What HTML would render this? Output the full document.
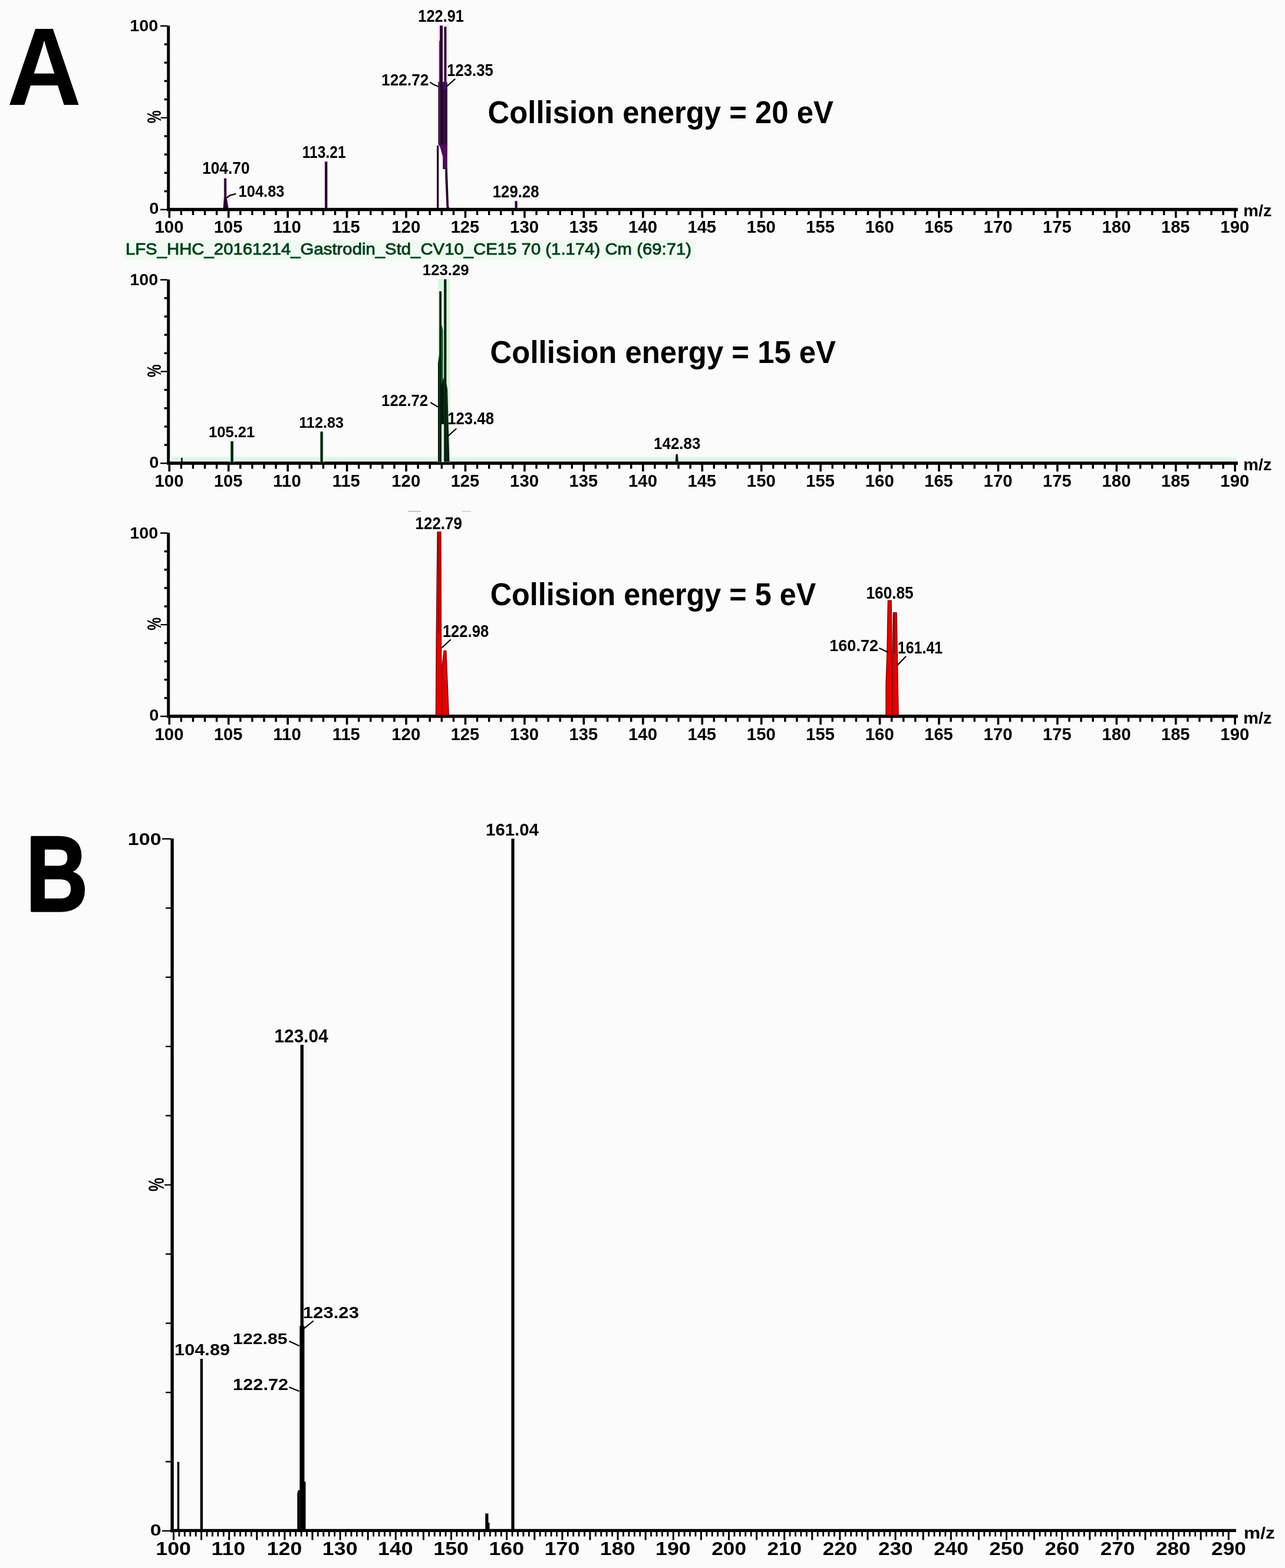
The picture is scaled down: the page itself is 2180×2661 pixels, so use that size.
<!DOCTYPE html>
<html><head><meta charset="utf-8"><title>Mass spectra</title>
<style>html,body{margin:0;padding:0;background:#fbfbfb;overflow:hidden;} svg{display:block;}</style>
</head><body>
<svg width="2180" height="2661" viewBox="0 0 2180 2661" font-family="&quot;Liberation Sans&quot;, Arial, sans-serif">
<rect x="0" y="0" width="2180" height="2661" fill="#fbfbfb"/>
<text transform="translate(11.74,177.5) scale(0.9370,1)" font-size="186.92" font-weight="bold" fill="#000">A</text>
<text transform="translate(43.83,1545.85) scale(0.8003,1)" font-size="182.56" font-weight="bold" fill="#000" stroke="#000" stroke-width="3.5" stroke-linejoin="round">B</text>
<rect x="283.2" y="43.5" width="5" height="314.2" fill="#000"/>
<rect x="283.2" y="352.8" width="1816.8" height="5.5" fill="#000"/>
<rect x="278.6" y="73.47" width="4.9" height="3.4" fill="#000"/>
<rect x="278.6" y="104.64" width="4.9" height="3.4" fill="#000"/>
<rect x="278.6" y="135.81" width="4.9" height="3.4" fill="#000"/>
<rect x="278.6" y="166.98" width="4.9" height="3.4" fill="#000"/>
<rect x="272.5" y="198.75" width="11" height="2.2" fill="#000"/>
<rect x="278.6" y="229.32" width="4.9" height="3.4" fill="#000"/>
<rect x="278.6" y="260.49" width="4.9" height="3.4" fill="#000"/>
<rect x="278.6" y="291.66" width="4.9" height="3.4" fill="#000"/>
<rect x="278.6" y="322.83" width="4.9" height="3.4" fill="#000"/>
<rect x="272" y="42.8" width="12" height="2.5" fill="#000"/>
<rect x="272" y="354.5" width="12" height="2.4" fill="#000"/>
<rect x="285.5" y="357.7" width="3.6" height="12" fill="#000"/>
<rect x="305.69" y="357.7" width="3.4" height="7.3" fill="#000"/>
<rect x="325.78" y="357.7" width="3.4" height="7.3" fill="#000"/>
<rect x="345.86" y="357.7" width="3.4" height="7.3" fill="#000"/>
<rect x="365.95" y="357.7" width="3.4" height="7.3" fill="#000"/>
<rect x="385.94" y="357.7" width="3.6" height="12" fill="#000"/>
<rect x="406.13" y="357.7" width="3.4" height="7.3" fill="#000"/>
<rect x="426.22" y="357.7" width="3.4" height="7.3" fill="#000"/>
<rect x="446.3" y="357.7" width="3.4" height="7.3" fill="#000"/>
<rect x="466.39" y="357.7" width="3.4" height="7.3" fill="#000"/>
<rect x="486.38" y="357.7" width="3.6" height="12" fill="#000"/>
<rect x="506.57" y="357.7" width="3.4" height="7.3" fill="#000"/>
<rect x="526.66" y="357.7" width="3.4" height="7.3" fill="#000"/>
<rect x="546.74" y="357.7" width="3.4" height="7.3" fill="#000"/>
<rect x="566.83" y="357.7" width="3.4" height="7.3" fill="#000"/>
<rect x="586.82" y="357.7" width="3.6" height="12" fill="#000"/>
<rect x="607.01" y="357.7" width="3.4" height="7.3" fill="#000"/>
<rect x="627.1" y="357.7" width="3.4" height="7.3" fill="#000"/>
<rect x="647.18" y="357.7" width="3.4" height="7.3" fill="#000"/>
<rect x="667.27" y="357.7" width="3.4" height="7.3" fill="#000"/>
<rect x="687.26" y="357.7" width="3.6" height="12" fill="#000"/>
<rect x="707.45" y="357.7" width="3.4" height="7.3" fill="#000"/>
<rect x="727.54" y="357.7" width="3.4" height="7.3" fill="#000"/>
<rect x="747.62" y="357.7" width="3.4" height="7.3" fill="#000"/>
<rect x="767.71" y="357.7" width="3.4" height="7.3" fill="#000"/>
<rect x="787.7" y="357.7" width="3.6" height="12" fill="#000"/>
<rect x="807.89" y="357.7" width="3.4" height="7.3" fill="#000"/>
<rect x="827.98" y="357.7" width="3.4" height="7.3" fill="#000"/>
<rect x="848.06" y="357.7" width="3.4" height="7.3" fill="#000"/>
<rect x="868.15" y="357.7" width="3.4" height="7.3" fill="#000"/>
<rect x="888.14" y="357.7" width="3.6" height="12" fill="#000"/>
<rect x="908.33" y="357.7" width="3.4" height="7.3" fill="#000"/>
<rect x="928.42" y="357.7" width="3.4" height="7.3" fill="#000"/>
<rect x="948.5" y="357.7" width="3.4" height="7.3" fill="#000"/>
<rect x="968.59" y="357.7" width="3.4" height="7.3" fill="#000"/>
<rect x="988.58" y="357.7" width="3.6" height="12" fill="#000"/>
<rect x="1008.77" y="357.7" width="3.4" height="7.3" fill="#000"/>
<rect x="1028.86" y="357.7" width="3.4" height="7.3" fill="#000"/>
<rect x="1048.94" y="357.7" width="3.4" height="7.3" fill="#000"/>
<rect x="1069.03" y="357.7" width="3.4" height="7.3" fill="#000"/>
<rect x="1089.02" y="357.7" width="3.6" height="12" fill="#000"/>
<rect x="1109.21" y="357.7" width="3.4" height="7.3" fill="#000"/>
<rect x="1129.3" y="357.7" width="3.4" height="7.3" fill="#000"/>
<rect x="1149.38" y="357.7" width="3.4" height="7.3" fill="#000"/>
<rect x="1169.47" y="357.7" width="3.4" height="7.3" fill="#000"/>
<rect x="1189.46" y="357.7" width="3.6" height="12" fill="#000"/>
<rect x="1209.65" y="357.7" width="3.4" height="7.3" fill="#000"/>
<rect x="1229.74" y="357.7" width="3.4" height="7.3" fill="#000"/>
<rect x="1249.82" y="357.7" width="3.4" height="7.3" fill="#000"/>
<rect x="1269.91" y="357.7" width="3.4" height="7.3" fill="#000"/>
<rect x="1289.9" y="357.7" width="3.6" height="12" fill="#000"/>
<rect x="1310.09" y="357.7" width="3.4" height="7.3" fill="#000"/>
<rect x="1330.18" y="357.7" width="3.4" height="7.3" fill="#000"/>
<rect x="1350.26" y="357.7" width="3.4" height="7.3" fill="#000"/>
<rect x="1370.35" y="357.7" width="3.4" height="7.3" fill="#000"/>
<rect x="1390.34" y="357.7" width="3.6" height="12" fill="#000"/>
<rect x="1410.53" y="357.7" width="3.4" height="7.3" fill="#000"/>
<rect x="1430.62" y="357.7" width="3.4" height="7.3" fill="#000"/>
<rect x="1450.7" y="357.7" width="3.4" height="7.3" fill="#000"/>
<rect x="1470.79" y="357.7" width="3.4" height="7.3" fill="#000"/>
<rect x="1490.78" y="357.7" width="3.6" height="12" fill="#000"/>
<rect x="1510.97" y="357.7" width="3.4" height="7.3" fill="#000"/>
<rect x="1531.06" y="357.7" width="3.4" height="7.3" fill="#000"/>
<rect x="1551.14" y="357.7" width="3.4" height="7.3" fill="#000"/>
<rect x="1571.23" y="357.7" width="3.4" height="7.3" fill="#000"/>
<rect x="1591.22" y="357.7" width="3.6" height="12" fill="#000"/>
<rect x="1611.41" y="357.7" width="3.4" height="7.3" fill="#000"/>
<rect x="1631.5" y="357.7" width="3.4" height="7.3" fill="#000"/>
<rect x="1651.58" y="357.7" width="3.4" height="7.3" fill="#000"/>
<rect x="1671.67" y="357.7" width="3.4" height="7.3" fill="#000"/>
<rect x="1691.66" y="357.7" width="3.6" height="12" fill="#000"/>
<rect x="1711.85" y="357.7" width="3.4" height="7.3" fill="#000"/>
<rect x="1731.94" y="357.7" width="3.4" height="7.3" fill="#000"/>
<rect x="1752.02" y="357.7" width="3.4" height="7.3" fill="#000"/>
<rect x="1772.11" y="357.7" width="3.4" height="7.3" fill="#000"/>
<rect x="1792.1" y="357.7" width="3.6" height="12" fill="#000"/>
<rect x="1812.29" y="357.7" width="3.4" height="7.3" fill="#000"/>
<rect x="1832.38" y="357.7" width="3.4" height="7.3" fill="#000"/>
<rect x="1852.46" y="357.7" width="3.4" height="7.3" fill="#000"/>
<rect x="1872.55" y="357.7" width="3.4" height="7.3" fill="#000"/>
<rect x="1892.54" y="357.7" width="3.6" height="12" fill="#000"/>
<rect x="1912.73" y="357.7" width="3.4" height="7.3" fill="#000"/>
<rect x="1932.82" y="357.7" width="3.4" height="7.3" fill="#000"/>
<rect x="1952.9" y="357.7" width="3.4" height="7.3" fill="#000"/>
<rect x="1972.99" y="357.7" width="3.4" height="7.3" fill="#000"/>
<rect x="1992.98" y="357.7" width="3.6" height="12" fill="#000"/>
<rect x="2013.17" y="357.7" width="3.4" height="7.3" fill="#000"/>
<rect x="2033.26" y="357.7" width="3.4" height="7.3" fill="#000"/>
<rect x="2053.34" y="357.7" width="3.4" height="7.3" fill="#000"/>
<rect x="2073.43" y="357.7" width="3.4" height="7.3" fill="#000"/>
<rect x="2093.42" y="357.7" width="3.6" height="12" fill="#000"/>
<text transform="translate(262.45,395.3) scale(1.0265,1)" font-size="28.64" font-weight="bold" fill="#000">100</text>
<text transform="translate(362.9,395.3) scale(1.0180,1)" font-size="28.64" font-weight="bold" fill="#000">105</text>
<text transform="translate(463.33,395.3) scale(1.0265,1)" font-size="28.64" font-weight="bold" fill="#000">110</text>
<text transform="translate(563.78,395.3) scale(1.0030,1)" font-size="29.07" font-weight="bold" fill="#000">115</text>
<text transform="translate(664.21,395.3) scale(1.0265,1)" font-size="28.64" font-weight="bold" fill="#000">120</text>
<text transform="translate(764.66,395.3) scale(1.0180,1)" font-size="28.64" font-weight="bold" fill="#000">125</text>
<text transform="translate(865.09,395.3) scale(1.0265,1)" font-size="28.64" font-weight="bold" fill="#000">130</text>
<text transform="translate(965.54,395.3) scale(1.0180,1)" font-size="28.64" font-weight="bold" fill="#000">135</text>
<text transform="translate(1065.97,395.3) scale(1.0265,1)" font-size="28.64" font-weight="bold" fill="#000">140</text>
<text transform="translate(1166.42,395.3) scale(1.0030,1)" font-size="29.07" font-weight="bold" fill="#000">145</text>
<text transform="translate(1266.85,395.3) scale(1.0265,1)" font-size="28.64" font-weight="bold" fill="#000">150</text>
<text transform="translate(1367.3,395.3) scale(1.0030,1)" font-size="29.07" font-weight="bold" fill="#000">155</text>
<text transform="translate(1467.73,395.3) scale(1.0265,1)" font-size="28.64" font-weight="bold" fill="#000">160</text>
<text transform="translate(1568.18,395.3) scale(1.0180,1)" font-size="28.64" font-weight="bold" fill="#000">165</text>
<text transform="translate(1668.61,395.3) scale(1.0265,1)" font-size="28.64" font-weight="bold" fill="#000">170</text>
<text transform="translate(1769.06,395.3) scale(1.0030,1)" font-size="29.07" font-weight="bold" fill="#000">175</text>
<text transform="translate(1869.49,395.3) scale(1.0265,1)" font-size="28.64" font-weight="bold" fill="#000">180</text>
<text transform="translate(1969.94,395.3) scale(1.0180,1)" font-size="28.64" font-weight="bold" fill="#000">185</text>
<text transform="translate(2070.37,395.3) scale(1.0265,1)" font-size="28.64" font-weight="bold" fill="#000">190</text>
<text transform="translate(220.19,53.4) scale(1.0461,1)" font-size="27.50" font-weight="bold" fill="#000">100</text>
<text transform="translate(253.14,362.8) scale(1.0412,1)" font-size="28.07" font-weight="bold" fill="#000">0</text>
<text transform="translate(272.94,209.37) rotate(-90) scale(0.7493,1)" font-size="32.97" font-weight="bold" fill="#000">%</text>
<text transform="translate(2109.19,367.3) scale(1.0488,1)" font-size="27.60" font-weight="bold" fill="#000">m/z</text>
<rect x="283.2" y="474.3" width="5" height="313.9" fill="#000"/>
<rect x="283.2" y="783.3" width="1816.8" height="5.5" fill="#000"/>
<rect x="278.6" y="504.24" width="4.9" height="3.4" fill="#000"/>
<rect x="278.6" y="535.38" width="4.9" height="3.4" fill="#000"/>
<rect x="278.6" y="566.52" width="4.9" height="3.4" fill="#000"/>
<rect x="278.6" y="597.66" width="4.9" height="3.4" fill="#000"/>
<rect x="272.5" y="629.4" width="11" height="2.2" fill="#000"/>
<rect x="278.6" y="659.94" width="4.9" height="3.4" fill="#000"/>
<rect x="278.6" y="691.08" width="4.9" height="3.4" fill="#000"/>
<rect x="278.6" y="722.22" width="4.9" height="3.4" fill="#000"/>
<rect x="278.6" y="753.36" width="4.9" height="3.4" fill="#000"/>
<rect x="272" y="473.6" width="12" height="2.5" fill="#000"/>
<rect x="272" y="785" width="12" height="2.4" fill="#000"/>
<rect x="285.5" y="788.2" width="3.6" height="12" fill="#000"/>
<rect x="305.69" y="788.2" width="3.4" height="7.3" fill="#000"/>
<rect x="325.78" y="788.2" width="3.4" height="7.3" fill="#000"/>
<rect x="345.86" y="788.2" width="3.4" height="7.3" fill="#000"/>
<rect x="365.95" y="788.2" width="3.4" height="7.3" fill="#000"/>
<rect x="385.94" y="788.2" width="3.6" height="12" fill="#000"/>
<rect x="406.13" y="788.2" width="3.4" height="7.3" fill="#000"/>
<rect x="426.22" y="788.2" width="3.4" height="7.3" fill="#000"/>
<rect x="446.3" y="788.2" width="3.4" height="7.3" fill="#000"/>
<rect x="466.39" y="788.2" width="3.4" height="7.3" fill="#000"/>
<rect x="486.38" y="788.2" width="3.6" height="12" fill="#000"/>
<rect x="506.57" y="788.2" width="3.4" height="7.3" fill="#000"/>
<rect x="526.66" y="788.2" width="3.4" height="7.3" fill="#000"/>
<rect x="546.74" y="788.2" width="3.4" height="7.3" fill="#000"/>
<rect x="566.83" y="788.2" width="3.4" height="7.3" fill="#000"/>
<rect x="586.82" y="788.2" width="3.6" height="12" fill="#000"/>
<rect x="607.01" y="788.2" width="3.4" height="7.3" fill="#000"/>
<rect x="627.1" y="788.2" width="3.4" height="7.3" fill="#000"/>
<rect x="647.18" y="788.2" width="3.4" height="7.3" fill="#000"/>
<rect x="667.27" y="788.2" width="3.4" height="7.3" fill="#000"/>
<rect x="687.26" y="788.2" width="3.6" height="12" fill="#000"/>
<rect x="707.45" y="788.2" width="3.4" height="7.3" fill="#000"/>
<rect x="727.54" y="788.2" width="3.4" height="7.3" fill="#000"/>
<rect x="747.62" y="788.2" width="3.4" height="7.3" fill="#000"/>
<rect x="767.71" y="788.2" width="3.4" height="7.3" fill="#000"/>
<rect x="787.7" y="788.2" width="3.6" height="12" fill="#000"/>
<rect x="807.89" y="788.2" width="3.4" height="7.3" fill="#000"/>
<rect x="827.98" y="788.2" width="3.4" height="7.3" fill="#000"/>
<rect x="848.06" y="788.2" width="3.4" height="7.3" fill="#000"/>
<rect x="868.15" y="788.2" width="3.4" height="7.3" fill="#000"/>
<rect x="888.14" y="788.2" width="3.6" height="12" fill="#000"/>
<rect x="908.33" y="788.2" width="3.4" height="7.3" fill="#000"/>
<rect x="928.42" y="788.2" width="3.4" height="7.3" fill="#000"/>
<rect x="948.5" y="788.2" width="3.4" height="7.3" fill="#000"/>
<rect x="968.59" y="788.2" width="3.4" height="7.3" fill="#000"/>
<rect x="988.58" y="788.2" width="3.6" height="12" fill="#000"/>
<rect x="1008.77" y="788.2" width="3.4" height="7.3" fill="#000"/>
<rect x="1028.86" y="788.2" width="3.4" height="7.3" fill="#000"/>
<rect x="1048.94" y="788.2" width="3.4" height="7.3" fill="#000"/>
<rect x="1069.03" y="788.2" width="3.4" height="7.3" fill="#000"/>
<rect x="1089.02" y="788.2" width="3.6" height="12" fill="#000"/>
<rect x="1109.21" y="788.2" width="3.4" height="7.3" fill="#000"/>
<rect x="1129.3" y="788.2" width="3.4" height="7.3" fill="#000"/>
<rect x="1149.38" y="788.2" width="3.4" height="7.3" fill="#000"/>
<rect x="1169.47" y="788.2" width="3.4" height="7.3" fill="#000"/>
<rect x="1189.46" y="788.2" width="3.6" height="12" fill="#000"/>
<rect x="1209.65" y="788.2" width="3.4" height="7.3" fill="#000"/>
<rect x="1229.74" y="788.2" width="3.4" height="7.3" fill="#000"/>
<rect x="1249.82" y="788.2" width="3.4" height="7.3" fill="#000"/>
<rect x="1269.91" y="788.2" width="3.4" height="7.3" fill="#000"/>
<rect x="1289.9" y="788.2" width="3.6" height="12" fill="#000"/>
<rect x="1310.09" y="788.2" width="3.4" height="7.3" fill="#000"/>
<rect x="1330.18" y="788.2" width="3.4" height="7.3" fill="#000"/>
<rect x="1350.26" y="788.2" width="3.4" height="7.3" fill="#000"/>
<rect x="1370.35" y="788.2" width="3.4" height="7.3" fill="#000"/>
<rect x="1390.34" y="788.2" width="3.6" height="12" fill="#000"/>
<rect x="1410.53" y="788.2" width="3.4" height="7.3" fill="#000"/>
<rect x="1430.62" y="788.2" width="3.4" height="7.3" fill="#000"/>
<rect x="1450.7" y="788.2" width="3.4" height="7.3" fill="#000"/>
<rect x="1470.79" y="788.2" width="3.4" height="7.3" fill="#000"/>
<rect x="1490.78" y="788.2" width="3.6" height="12" fill="#000"/>
<rect x="1510.97" y="788.2" width="3.4" height="7.3" fill="#000"/>
<rect x="1531.06" y="788.2" width="3.4" height="7.3" fill="#000"/>
<rect x="1551.14" y="788.2" width="3.4" height="7.3" fill="#000"/>
<rect x="1571.23" y="788.2" width="3.4" height="7.3" fill="#000"/>
<rect x="1591.22" y="788.2" width="3.6" height="12" fill="#000"/>
<rect x="1611.41" y="788.2" width="3.4" height="7.3" fill="#000"/>
<rect x="1631.5" y="788.2" width="3.4" height="7.3" fill="#000"/>
<rect x="1651.58" y="788.2" width="3.4" height="7.3" fill="#000"/>
<rect x="1671.67" y="788.2" width="3.4" height="7.3" fill="#000"/>
<rect x="1691.66" y="788.2" width="3.6" height="12" fill="#000"/>
<rect x="1711.85" y="788.2" width="3.4" height="7.3" fill="#000"/>
<rect x="1731.94" y="788.2" width="3.4" height="7.3" fill="#000"/>
<rect x="1752.02" y="788.2" width="3.4" height="7.3" fill="#000"/>
<rect x="1772.11" y="788.2" width="3.4" height="7.3" fill="#000"/>
<rect x="1792.1" y="788.2" width="3.6" height="12" fill="#000"/>
<rect x="1812.29" y="788.2" width="3.4" height="7.3" fill="#000"/>
<rect x="1832.38" y="788.2" width="3.4" height="7.3" fill="#000"/>
<rect x="1852.46" y="788.2" width="3.4" height="7.3" fill="#000"/>
<rect x="1872.55" y="788.2" width="3.4" height="7.3" fill="#000"/>
<rect x="1892.54" y="788.2" width="3.6" height="12" fill="#000"/>
<rect x="1912.73" y="788.2" width="3.4" height="7.3" fill="#000"/>
<rect x="1932.82" y="788.2" width="3.4" height="7.3" fill="#000"/>
<rect x="1952.9" y="788.2" width="3.4" height="7.3" fill="#000"/>
<rect x="1972.99" y="788.2" width="3.4" height="7.3" fill="#000"/>
<rect x="1992.98" y="788.2" width="3.6" height="12" fill="#000"/>
<rect x="2013.17" y="788.2" width="3.4" height="7.3" fill="#000"/>
<rect x="2033.26" y="788.2" width="3.4" height="7.3" fill="#000"/>
<rect x="2053.34" y="788.2" width="3.4" height="7.3" fill="#000"/>
<rect x="2073.43" y="788.2" width="3.4" height="7.3" fill="#000"/>
<rect x="2093.42" y="788.2" width="3.6" height="12" fill="#000"/>
<text transform="translate(262.45,826.3) scale(1.0265,1)" font-size="28.64" font-weight="bold" fill="#000">100</text>
<text transform="translate(362.9,826.3) scale(1.0180,1)" font-size="28.64" font-weight="bold" fill="#000">105</text>
<text transform="translate(463.33,826.3) scale(1.0265,1)" font-size="28.64" font-weight="bold" fill="#000">110</text>
<text transform="translate(563.78,826.3) scale(1.0030,1)" font-size="29.07" font-weight="bold" fill="#000">115</text>
<text transform="translate(664.21,826.3) scale(1.0265,1)" font-size="28.64" font-weight="bold" fill="#000">120</text>
<text transform="translate(764.66,826.3) scale(1.0180,1)" font-size="28.64" font-weight="bold" fill="#000">125</text>
<text transform="translate(865.09,826.3) scale(1.0265,1)" font-size="28.64" font-weight="bold" fill="#000">130</text>
<text transform="translate(965.54,826.3) scale(1.0180,1)" font-size="28.64" font-weight="bold" fill="#000">135</text>
<text transform="translate(1065.97,826.3) scale(1.0265,1)" font-size="28.64" font-weight="bold" fill="#000">140</text>
<text transform="translate(1166.42,826.3) scale(1.0030,1)" font-size="29.07" font-weight="bold" fill="#000">145</text>
<text transform="translate(1266.85,826.3) scale(1.0265,1)" font-size="28.64" font-weight="bold" fill="#000">150</text>
<text transform="translate(1367.3,826.3) scale(1.0030,1)" font-size="29.07" font-weight="bold" fill="#000">155</text>
<text transform="translate(1467.73,826.3) scale(1.0265,1)" font-size="28.64" font-weight="bold" fill="#000">160</text>
<text transform="translate(1568.18,826.3) scale(1.0180,1)" font-size="28.64" font-weight="bold" fill="#000">165</text>
<text transform="translate(1668.61,826.3) scale(1.0265,1)" font-size="28.64" font-weight="bold" fill="#000">170</text>
<text transform="translate(1769.06,826.3) scale(1.0030,1)" font-size="29.07" font-weight="bold" fill="#000">175</text>
<text transform="translate(1869.49,826.3) scale(1.0265,1)" font-size="28.64" font-weight="bold" fill="#000">180</text>
<text transform="translate(1969.94,826.3) scale(1.0180,1)" font-size="28.64" font-weight="bold" fill="#000">185</text>
<text transform="translate(2070.37,826.3) scale(1.0265,1)" font-size="28.64" font-weight="bold" fill="#000">190</text>
<text transform="translate(220.19,484.4) scale(1.0461,1)" font-size="27.50" font-weight="bold" fill="#000">100</text>
<text transform="translate(253.14,793.8) scale(1.0412,1)" font-size="28.07" font-weight="bold" fill="#000">0</text>
<text transform="translate(272.94,640.37) rotate(-90) scale(0.7493,1)" font-size="32.97" font-weight="bold" fill="#000">%</text>
<text transform="translate(2109.19,798.3) scale(1.0488,1)" font-size="27.60" font-weight="bold" fill="#000">m/z</text>
<rect x="283.2" y="904.1" width="5" height="313.6" fill="#000"/>
<rect x="283.2" y="1212.8" width="1816.8" height="5.5" fill="#000"/>
<rect x="278.6" y="934.01" width="4.9" height="3.4" fill="#000"/>
<rect x="278.6" y="965.12" width="4.9" height="3.4" fill="#000"/>
<rect x="278.6" y="996.23" width="4.9" height="3.4" fill="#000"/>
<rect x="278.6" y="1027.34" width="4.9" height="3.4" fill="#000"/>
<rect x="272.5" y="1059.05" width="11" height="2.2" fill="#000"/>
<rect x="278.6" y="1089.56" width="4.9" height="3.4" fill="#000"/>
<rect x="278.6" y="1120.67" width="4.9" height="3.4" fill="#000"/>
<rect x="278.6" y="1151.78" width="4.9" height="3.4" fill="#000"/>
<rect x="278.6" y="1182.89" width="4.9" height="3.4" fill="#000"/>
<rect x="272" y="903.4" width="12" height="2.5" fill="#000"/>
<rect x="272" y="1214.5" width="12" height="2.4" fill="#000"/>
<rect x="285.5" y="1217.7" width="3.6" height="12" fill="#000"/>
<rect x="305.69" y="1217.7" width="3.4" height="7.3" fill="#000"/>
<rect x="325.78" y="1217.7" width="3.4" height="7.3" fill="#000"/>
<rect x="345.86" y="1217.7" width="3.4" height="7.3" fill="#000"/>
<rect x="365.95" y="1217.7" width="3.4" height="7.3" fill="#000"/>
<rect x="385.94" y="1217.7" width="3.6" height="12" fill="#000"/>
<rect x="406.13" y="1217.7" width="3.4" height="7.3" fill="#000"/>
<rect x="426.22" y="1217.7" width="3.4" height="7.3" fill="#000"/>
<rect x="446.3" y="1217.7" width="3.4" height="7.3" fill="#000"/>
<rect x="466.39" y="1217.7" width="3.4" height="7.3" fill="#000"/>
<rect x="486.38" y="1217.7" width="3.6" height="12" fill="#000"/>
<rect x="506.57" y="1217.7" width="3.4" height="7.3" fill="#000"/>
<rect x="526.66" y="1217.7" width="3.4" height="7.3" fill="#000"/>
<rect x="546.74" y="1217.7" width="3.4" height="7.3" fill="#000"/>
<rect x="566.83" y="1217.7" width="3.4" height="7.3" fill="#000"/>
<rect x="586.82" y="1217.7" width="3.6" height="12" fill="#000"/>
<rect x="607.01" y="1217.7" width="3.4" height="7.3" fill="#000"/>
<rect x="627.1" y="1217.7" width="3.4" height="7.3" fill="#000"/>
<rect x="647.18" y="1217.7" width="3.4" height="7.3" fill="#000"/>
<rect x="667.27" y="1217.7" width="3.4" height="7.3" fill="#000"/>
<rect x="687.26" y="1217.7" width="3.6" height="12" fill="#000"/>
<rect x="707.45" y="1217.7" width="3.4" height="7.3" fill="#000"/>
<rect x="727.54" y="1217.7" width="3.4" height="7.3" fill="#000"/>
<rect x="747.62" y="1217.7" width="3.4" height="7.3" fill="#000"/>
<rect x="767.71" y="1217.7" width="3.4" height="7.3" fill="#000"/>
<rect x="787.7" y="1217.7" width="3.6" height="12" fill="#000"/>
<rect x="807.89" y="1217.7" width="3.4" height="7.3" fill="#000"/>
<rect x="827.98" y="1217.7" width="3.4" height="7.3" fill="#000"/>
<rect x="848.06" y="1217.7" width="3.4" height="7.3" fill="#000"/>
<rect x="868.15" y="1217.7" width="3.4" height="7.3" fill="#000"/>
<rect x="888.14" y="1217.7" width="3.6" height="12" fill="#000"/>
<rect x="908.33" y="1217.7" width="3.4" height="7.3" fill="#000"/>
<rect x="928.42" y="1217.7" width="3.4" height="7.3" fill="#000"/>
<rect x="948.5" y="1217.7" width="3.4" height="7.3" fill="#000"/>
<rect x="968.59" y="1217.7" width="3.4" height="7.3" fill="#000"/>
<rect x="988.58" y="1217.7" width="3.6" height="12" fill="#000"/>
<rect x="1008.77" y="1217.7" width="3.4" height="7.3" fill="#000"/>
<rect x="1028.86" y="1217.7" width="3.4" height="7.3" fill="#000"/>
<rect x="1048.94" y="1217.7" width="3.4" height="7.3" fill="#000"/>
<rect x="1069.03" y="1217.7" width="3.4" height="7.3" fill="#000"/>
<rect x="1089.02" y="1217.7" width="3.6" height="12" fill="#000"/>
<rect x="1109.21" y="1217.7" width="3.4" height="7.3" fill="#000"/>
<rect x="1129.3" y="1217.7" width="3.4" height="7.3" fill="#000"/>
<rect x="1149.38" y="1217.7" width="3.4" height="7.3" fill="#000"/>
<rect x="1169.47" y="1217.7" width="3.4" height="7.3" fill="#000"/>
<rect x="1189.46" y="1217.7" width="3.6" height="12" fill="#000"/>
<rect x="1209.65" y="1217.7" width="3.4" height="7.3" fill="#000"/>
<rect x="1229.74" y="1217.7" width="3.4" height="7.3" fill="#000"/>
<rect x="1249.82" y="1217.7" width="3.4" height="7.3" fill="#000"/>
<rect x="1269.91" y="1217.7" width="3.4" height="7.3" fill="#000"/>
<rect x="1289.9" y="1217.7" width="3.6" height="12" fill="#000"/>
<rect x="1310.09" y="1217.7" width="3.4" height="7.3" fill="#000"/>
<rect x="1330.18" y="1217.7" width="3.4" height="7.3" fill="#000"/>
<rect x="1350.26" y="1217.7" width="3.4" height="7.3" fill="#000"/>
<rect x="1370.35" y="1217.7" width="3.4" height="7.3" fill="#000"/>
<rect x="1390.34" y="1217.7" width="3.6" height="12" fill="#000"/>
<rect x="1410.53" y="1217.7" width="3.4" height="7.3" fill="#000"/>
<rect x="1430.62" y="1217.7" width="3.4" height="7.3" fill="#000"/>
<rect x="1450.7" y="1217.7" width="3.4" height="7.3" fill="#000"/>
<rect x="1470.79" y="1217.7" width="3.4" height="7.3" fill="#000"/>
<rect x="1490.78" y="1217.7" width="3.6" height="12" fill="#000"/>
<rect x="1510.97" y="1217.7" width="3.4" height="7.3" fill="#000"/>
<rect x="1531.06" y="1217.7" width="3.4" height="7.3" fill="#000"/>
<rect x="1551.14" y="1217.7" width="3.4" height="7.3" fill="#000"/>
<rect x="1571.23" y="1217.7" width="3.4" height="7.3" fill="#000"/>
<rect x="1591.22" y="1217.7" width="3.6" height="12" fill="#000"/>
<rect x="1611.41" y="1217.7" width="3.4" height="7.3" fill="#000"/>
<rect x="1631.5" y="1217.7" width="3.4" height="7.3" fill="#000"/>
<rect x="1651.58" y="1217.7" width="3.4" height="7.3" fill="#000"/>
<rect x="1671.67" y="1217.7" width="3.4" height="7.3" fill="#000"/>
<rect x="1691.66" y="1217.7" width="3.6" height="12" fill="#000"/>
<rect x="1711.85" y="1217.7" width="3.4" height="7.3" fill="#000"/>
<rect x="1731.94" y="1217.7" width="3.4" height="7.3" fill="#000"/>
<rect x="1752.02" y="1217.7" width="3.4" height="7.3" fill="#000"/>
<rect x="1772.11" y="1217.7" width="3.4" height="7.3" fill="#000"/>
<rect x="1792.1" y="1217.7" width="3.6" height="12" fill="#000"/>
<rect x="1812.29" y="1217.7" width="3.4" height="7.3" fill="#000"/>
<rect x="1832.38" y="1217.7" width="3.4" height="7.3" fill="#000"/>
<rect x="1852.46" y="1217.7" width="3.4" height="7.3" fill="#000"/>
<rect x="1872.55" y="1217.7" width="3.4" height="7.3" fill="#000"/>
<rect x="1892.54" y="1217.7" width="3.6" height="12" fill="#000"/>
<rect x="1912.73" y="1217.7" width="3.4" height="7.3" fill="#000"/>
<rect x="1932.82" y="1217.7" width="3.4" height="7.3" fill="#000"/>
<rect x="1952.9" y="1217.7" width="3.4" height="7.3" fill="#000"/>
<rect x="1972.99" y="1217.7" width="3.4" height="7.3" fill="#000"/>
<rect x="1992.98" y="1217.7" width="3.6" height="12" fill="#000"/>
<rect x="2013.17" y="1217.7" width="3.4" height="7.3" fill="#000"/>
<rect x="2033.26" y="1217.7" width="3.4" height="7.3" fill="#000"/>
<rect x="2053.34" y="1217.7" width="3.4" height="7.3" fill="#000"/>
<rect x="2073.43" y="1217.7" width="3.4" height="7.3" fill="#000"/>
<rect x="2093.42" y="1217.7" width="3.6" height="12" fill="#000"/>
<text transform="translate(262.45,1255.8) scale(1.0265,1)" font-size="28.64" font-weight="bold" fill="#000">100</text>
<text transform="translate(362.9,1255.8) scale(1.0180,1)" font-size="28.64" font-weight="bold" fill="#000">105</text>
<text transform="translate(463.33,1255.8) scale(1.0265,1)" font-size="28.64" font-weight="bold" fill="#000">110</text>
<text transform="translate(563.78,1255.8) scale(1.0030,1)" font-size="29.07" font-weight="bold" fill="#000">115</text>
<text transform="translate(664.21,1255.8) scale(1.0265,1)" font-size="28.64" font-weight="bold" fill="#000">120</text>
<text transform="translate(764.66,1255.8) scale(1.0180,1)" font-size="28.64" font-weight="bold" fill="#000">125</text>
<text transform="translate(865.09,1255.8) scale(1.0265,1)" font-size="28.64" font-weight="bold" fill="#000">130</text>
<text transform="translate(965.54,1255.8) scale(1.0180,1)" font-size="28.64" font-weight="bold" fill="#000">135</text>
<text transform="translate(1065.97,1255.8) scale(1.0265,1)" font-size="28.64" font-weight="bold" fill="#000">140</text>
<text transform="translate(1166.42,1255.8) scale(1.0030,1)" font-size="29.07" font-weight="bold" fill="#000">145</text>
<text transform="translate(1266.85,1255.8) scale(1.0265,1)" font-size="28.64" font-weight="bold" fill="#000">150</text>
<text transform="translate(1367.3,1255.8) scale(1.0030,1)" font-size="29.07" font-weight="bold" fill="#000">155</text>
<text transform="translate(1467.73,1255.8) scale(1.0265,1)" font-size="28.64" font-weight="bold" fill="#000">160</text>
<text transform="translate(1568.18,1255.8) scale(1.0180,1)" font-size="28.64" font-weight="bold" fill="#000">165</text>
<text transform="translate(1668.61,1255.8) scale(1.0265,1)" font-size="28.64" font-weight="bold" fill="#000">170</text>
<text transform="translate(1769.06,1255.8) scale(1.0030,1)" font-size="29.07" font-weight="bold" fill="#000">175</text>
<text transform="translate(1869.49,1255.8) scale(1.0265,1)" font-size="28.64" font-weight="bold" fill="#000">180</text>
<text transform="translate(1969.94,1255.8) scale(1.0180,1)" font-size="28.64" font-weight="bold" fill="#000">185</text>
<text transform="translate(2070.37,1255.8) scale(1.0265,1)" font-size="28.64" font-weight="bold" fill="#000">190</text>
<text transform="translate(220.19,913.9) scale(1.0461,1)" font-size="27.50" font-weight="bold" fill="#000">100</text>
<text transform="translate(253.14,1223.3) scale(1.0412,1)" font-size="28.07" font-weight="bold" fill="#000">0</text>
<text transform="translate(272.94,1069.87) rotate(-90) scale(0.7493,1)" font-size="32.97" font-weight="bold" fill="#000">%</text>
<text transform="translate(2109.19,1227.8) scale(1.0488,1)" font-size="27.60" font-weight="bold" fill="#000">m/z</text>
<rect x="378.6" y="301" width="7.1" height="33" fill="#f8e2f5"/>
<rect x="377.2" y="334" width="12.1" height="19" fill="#f8e2f5"/>
<rect x="549.7" y="273" width="7.1" height="80" fill="#f8e2f5"/>
<rect x="872.3" y="340" width="6.7" height="13" fill="#f8e2f5"/>
<rect x="742.5" y="42" width="18.1" height="98" fill="#f8e2f5"/>
<polygon points="380.2,302.7 384.1,302.7 384.3,334 387.6,353.5 378.6,353.5 380.2,334" fill="#26052c"/>
<rect x="551.2" y="274.3" width="4.1" height="79.2" fill="#26052c"/>
<rect x="873.6" y="341.3" width="4" height="12.2" fill="#26052c"/>
<rect x="746.2" y="43.5" width="4.8" height="202.5" fill="#26052c"/>
<rect x="745.2" y="69.3" width="1.2" height="176.7" fill="#26052c"/>
<rect x="743.4" y="139" width="2" height="107" fill="#3a0842"/>
<rect x="751" y="52" width="2.5" height="88" fill="#f4d2f0"/>
<rect x="750.8" y="139" width="2.9" height="107" fill="#26052c"/>
<rect x="753.5" y="45.3" width="3.9" height="200.7" fill="#26052c"/>
<rect x="757.2" y="140" width="1.8" height="106" fill="#3a0842"/>
<polygon points="744.2,245 759,245 758.8,287 751.2,287 751.2,266 747,251" fill="#4c0a58"/>
<rect x="751.3" y="139" width="6.3" height="13" fill="#480a6c"/>
<polygon points="741,247 744.4,247 744.4,353.5 741,353.5" fill="#26052c"/>
<polygon points="755.3,285 758.8,285 761.2,350 762.5,353.5 757.6,353.5 755.3,300" fill="#26052c"/>
<text transform="translate(709.3,37.3) scale(0.8870,1)" font-size="28.64" font-weight="bold" fill="#000">122.91</text>
<text transform="translate(647.04,145.4) scale(0.9462,1)" font-size="27.78" font-weight="bold" fill="#000">122.72</text>
<text transform="translate(758.28,129.1) scale(0.8864,1)" font-size="28.93" font-weight="bold" fill="#000">123.35</text>
<text transform="translate(512.75,267.5) scale(0.8599,1)" font-size="28.64" font-weight="bold" fill="#000">113.21</text>
<text transform="translate(343.14,295.3) scale(0.9090,1)" font-size="28.93" font-weight="bold" fill="#000">104.70</text>
<text transform="translate(404.6,334.2) scale(0.9513,1)" font-size="26.78" font-weight="bold" fill="#000">104.83</text>
<text transform="translate(835.78,335) scale(0.8765,1)" font-size="29.36" font-weight="bold" fill="#000">129.28</text>
<path d="M729.5,139.6 Q737,144.8 744.3,147.2" fill="none" stroke="#000" stroke-width="2.2"/>
<polyline points="772.3,133.7 757.5,147" fill="none" stroke="#000" stroke-width="2.2"/>
<polyline points="384.8,335.5 390,331.5 400.4,328.8" fill="none" stroke="#000" stroke-width="2.4"/>
<text transform="translate(827.51,208.9) scale(0.9468,1)" font-size="53.71" font-weight="bold" fill="#000">Collision energy = 20 eV</text>
<rect x="210" y="407" width="970" height="35" fill="#f0faf2"/>
<text transform="translate(212.88,431.95) scale(1.0797,1)" font-size="27.18" font-weight="normal" fill="#003f18" stroke="#003f18" stroke-width="0.9" stroke-linejoin="round">LFS_HHC_20161214_Gastrodin_Std_CV10_CE15 70 (1.174) Cm (69:71)</text>
<rect x="288" y="775.2" width="1810" height="6.5" fill="#e2f7e8"/>
<rect x="390" y="747" width="7.3" height="37.2" fill="#dcf6e2"/>
<rect x="542" y="731" width="7.3" height="53.2" fill="#dcf6e2"/>
<rect x="742.5" y="473" width="21" height="311.2" fill="#dcf6e2"/>
<rect x="307" y="776.9" width="2.8" height="9.3" fill="#03200c"/>
<rect x="391.4" y="748.8" width="4.4" height="37.4" fill="#03200c"/>
<rect x="543.5" y="732.6" width="4.3" height="53.6" fill="#03200c"/>
<polygon points="1146.5,772 1148.2,769.7 1150,772 1151,786.2 1145.5,786.2" fill="#03200c"/>
<rect x="745.2" y="494.4" width="3.8" height="289.4" fill="#03200c"/>
<rect x="753.2" y="474" width="4.2" height="309.8" fill="#03200c"/>
<polygon points="743,617 745.3,600 745.3,783.8 743,783.8" fill="#03200c"/>
<polygon points="748.5,548 751.5,560 751.5,652 748.5,652" fill="#0d5a22"/>
<polygon points="749,652 753.3,640 753.3,720 749,720" fill="#001a06"/>
<polygon points="757.2,650 759.1,660 762.5,783.8 757.2,783.8" fill="#03200c"/>
<text transform="translate(716.77,467.2) scale(1.0073,1)" font-size="25.64" font-weight="bold" fill="#000">123.29</text>
<text transform="translate(647.07,689) scale(0.9221,1)" font-size="28.07" font-weight="bold" fill="#000">122.72</text>
<text transform="translate(759.17,720.4) scale(0.8832,1)" font-size="29.22" font-weight="bold" fill="#000">123.48</text>
<text transform="translate(353.88,741.8) scale(0.9731,1)" font-size="26.35" font-weight="bold" fill="#000">105.21</text>
<text transform="translate(507.21,725.7) scale(0.9591,1)" font-size="26.35" font-weight="bold" fill="#000">112.83</text>
<text transform="translate(1109.07,762.2) scale(0.9690,1)" font-size="26.78" font-weight="bold" fill="#000">142.83</text>
<polyline points="730.3,683 743,690.6" fill="none" stroke="#000" stroke-width="2.2"/>
<polyline points="774.4,727.2 759.1,740.8" fill="none" stroke="#000" stroke-width="2.2"/>
<text transform="translate(831.61,616.2) scale(0.9468,1)" font-size="53.71" font-weight="bold" fill="#000">Collision energy = 15 eV</text>
<polygon points="753.3,1104.5 756.8,1104.5 761.2,1213.3 749.6,1213.3 750.2,1130" fill="#e60000" stroke="#8a0000" stroke-width="1.6" stroke-linejoin="round"/>
<polygon points="742.2,902.8 747.9,902.8 748.4,1082 749.2,1213.3 739.6,1213.3 740.3,1081.8" fill="#e60000" stroke="#8a0000" stroke-width="1.6" stroke-linejoin="round"/>
<rect x="743.6" y="905" width="1.6" height="170" fill="#8a0000"/>
<polygon points="1515.4,1039.7 1521,1039.7 1524,1213.3 1513.2,1213.3 1514,1143" fill="#e60000" stroke="#8a0000" stroke-width="1.6" stroke-linejoin="round"/>
<polygon points="1506.5,1019.4 1512.1,1019.4 1513.6,1213.3 1503.1,1213.3 1503.1,1161.5 1505,1109 1505.8,1060" fill="#e60000" stroke="#8a0000" stroke-width="1.6" stroke-linejoin="round"/>
<rect x="1516.5" y="1041" width="1.7" height="69" fill="#8a0000"/>
<rect x="692" y="866.9" width="22" height="1.8" fill="#cbb6bc"/>
<rect x="784" y="866.9" width="15" height="1.8" fill="#d9c8cc"/>
<text transform="translate(704.56,897.5) scale(0.9063,1)" font-size="28.64" font-weight="bold" fill="#000">122.79</text>
<text transform="translate(750.89,1080.9) scale(0.8893,1)" font-size="28.79" font-weight="bold" fill="#000">122.98</text>
<text transform="translate(1469.45,1015.5) scale(0.9029,1)" font-size="29.07" font-weight="bold" fill="#000">160.85</text>
<text transform="translate(1407.3,1104.8) scale(0.9631,1)" font-size="28.07" font-weight="bold" fill="#000">160.72</text>
<text transform="translate(1522.73,1109.3) scale(0.8600,1)" font-size="29.07" font-weight="bold" fill="#000">161.41</text>
<polyline points="764.7,1085.2 749.8,1099.2" fill="none" stroke="#000" stroke-width="2.2"/>
<polyline points="1491.4,1099.8 1506,1106.7" fill="none" stroke="#000" stroke-width="2.2"/>
<polyline points="1537,1113.7 1521.8,1129.6" fill="none" stroke="#000" stroke-width="2.2"/>
<text transform="translate(831.63,1027.4) scale(0.9401,1)" font-size="53.57" font-weight="bold" fill="#000">Collision energy = 5 eV</text>
<rect x="289.4" y="1423.1" width="5.4" height="1177.4" fill="#000"/>
<rect x="289.4" y="2594.8" width="1807.6" height="5.2" fill="#000"/>
<rect x="281" y="1539.84" width="9" height="2.4" fill="#000"/>
<rect x="281" y="1657.28" width="9" height="2.4" fill="#000"/>
<rect x="281" y="1774.72" width="9" height="2.4" fill="#000"/>
<rect x="281" y="1892.16" width="9" height="2.4" fill="#000"/>
<rect x="279" y="2009.7" width="11" height="2.2" fill="#000"/>
<rect x="281" y="2127.04" width="9" height="2.4" fill="#000"/>
<rect x="281" y="2244.48" width="9" height="2.4" fill="#000"/>
<rect x="281" y="2361.92" width="9" height="2.4" fill="#000"/>
<rect x="281" y="2479.36" width="9" height="2.4" fill="#000"/>
<rect x="275" y="1422.4" width="15" height="2.4" fill="#000"/>
<rect x="275" y="2596.8" width="15" height="2.4" fill="#000"/>
<rect x="293" y="2600" width="3" height="13.5" fill="#000"/>
<rect x="302.52" y="2600" width="2.8" height="7.5" fill="#000"/>
<rect x="311.94" y="2600" width="2.8" height="7.5" fill="#000"/>
<rect x="321.36" y="2600" width="2.8" height="7.5" fill="#000"/>
<rect x="330.78" y="2600" width="2.8" height="7.5" fill="#000"/>
<rect x="340.1" y="2600" width="3" height="13.5" fill="#000"/>
<rect x="349.62" y="2600" width="2.8" height="7.5" fill="#000"/>
<rect x="359.04" y="2600" width="2.8" height="7.5" fill="#000"/>
<rect x="368.46" y="2600" width="2.8" height="7.5" fill="#000"/>
<rect x="377.88" y="2600" width="2.8" height="7.5" fill="#000"/>
<rect x="387.2" y="2600" width="3" height="13.5" fill="#000"/>
<rect x="396.72" y="2600" width="2.8" height="7.5" fill="#000"/>
<rect x="406.14" y="2600" width="2.8" height="7.5" fill="#000"/>
<rect x="415.56" y="2600" width="2.8" height="7.5" fill="#000"/>
<rect x="424.98" y="2600" width="2.8" height="7.5" fill="#000"/>
<rect x="434.3" y="2600" width="3" height="13.5" fill="#000"/>
<rect x="443.82" y="2600" width="2.8" height="7.5" fill="#000"/>
<rect x="453.24" y="2600" width="2.8" height="7.5" fill="#000"/>
<rect x="462.66" y="2600" width="2.8" height="7.5" fill="#000"/>
<rect x="472.08" y="2600" width="2.8" height="7.5" fill="#000"/>
<rect x="481.4" y="2600" width="3" height="13.5" fill="#000"/>
<rect x="490.92" y="2600" width="2.8" height="7.5" fill="#000"/>
<rect x="500.34" y="2600" width="2.8" height="7.5" fill="#000"/>
<rect x="509.76" y="2600" width="2.8" height="7.5" fill="#000"/>
<rect x="519.18" y="2600" width="2.8" height="7.5" fill="#000"/>
<rect x="528.5" y="2600" width="3" height="13.5" fill="#000"/>
<rect x="538.02" y="2600" width="2.8" height="7.5" fill="#000"/>
<rect x="547.44" y="2600" width="2.8" height="7.5" fill="#000"/>
<rect x="556.86" y="2600" width="2.8" height="7.5" fill="#000"/>
<rect x="566.28" y="2600" width="2.8" height="7.5" fill="#000"/>
<rect x="575.6" y="2600" width="3" height="13.5" fill="#000"/>
<rect x="585.12" y="2600" width="2.8" height="7.5" fill="#000"/>
<rect x="594.54" y="2600" width="2.8" height="7.5" fill="#000"/>
<rect x="603.96" y="2600" width="2.8" height="7.5" fill="#000"/>
<rect x="613.38" y="2600" width="2.8" height="7.5" fill="#000"/>
<rect x="622.7" y="2600" width="3" height="13.5" fill="#000"/>
<rect x="632.22" y="2600" width="2.8" height="7.5" fill="#000"/>
<rect x="641.64" y="2600" width="2.8" height="7.5" fill="#000"/>
<rect x="651.06" y="2600" width="2.8" height="7.5" fill="#000"/>
<rect x="660.48" y="2600" width="2.8" height="7.5" fill="#000"/>
<rect x="669.8" y="2600" width="3" height="13.5" fill="#000"/>
<rect x="679.32" y="2600" width="2.8" height="7.5" fill="#000"/>
<rect x="688.74" y="2600" width="2.8" height="7.5" fill="#000"/>
<rect x="698.16" y="2600" width="2.8" height="7.5" fill="#000"/>
<rect x="707.58" y="2600" width="2.8" height="7.5" fill="#000"/>
<rect x="716.9" y="2600" width="3" height="13.5" fill="#000"/>
<rect x="726.42" y="2600" width="2.8" height="7.5" fill="#000"/>
<rect x="735.84" y="2600" width="2.8" height="7.5" fill="#000"/>
<rect x="745.26" y="2600" width="2.8" height="7.5" fill="#000"/>
<rect x="754.68" y="2600" width="2.8" height="7.5" fill="#000"/>
<rect x="764" y="2600" width="3" height="13.5" fill="#000"/>
<rect x="773.52" y="2600" width="2.8" height="7.5" fill="#000"/>
<rect x="782.94" y="2600" width="2.8" height="7.5" fill="#000"/>
<rect x="792.36" y="2600" width="2.8" height="7.5" fill="#000"/>
<rect x="801.78" y="2600" width="2.8" height="7.5" fill="#000"/>
<rect x="811.1" y="2600" width="3" height="13.5" fill="#000"/>
<rect x="820.62" y="2600" width="2.8" height="7.5" fill="#000"/>
<rect x="830.04" y="2600" width="2.8" height="7.5" fill="#000"/>
<rect x="839.46" y="2600" width="2.8" height="7.5" fill="#000"/>
<rect x="848.88" y="2600" width="2.8" height="7.5" fill="#000"/>
<rect x="858.2" y="2600" width="3" height="13.5" fill="#000"/>
<rect x="867.72" y="2600" width="2.8" height="7.5" fill="#000"/>
<rect x="877.14" y="2600" width="2.8" height="7.5" fill="#000"/>
<rect x="886.56" y="2600" width="2.8" height="7.5" fill="#000"/>
<rect x="895.98" y="2600" width="2.8" height="7.5" fill="#000"/>
<rect x="905.3" y="2600" width="3" height="13.5" fill="#000"/>
<rect x="914.82" y="2600" width="2.8" height="7.5" fill="#000"/>
<rect x="924.24" y="2600" width="2.8" height="7.5" fill="#000"/>
<rect x="933.66" y="2600" width="2.8" height="7.5" fill="#000"/>
<rect x="943.08" y="2600" width="2.8" height="7.5" fill="#000"/>
<rect x="952.4" y="2600" width="3" height="13.5" fill="#000"/>
<rect x="961.92" y="2600" width="2.8" height="7.5" fill="#000"/>
<rect x="971.34" y="2600" width="2.8" height="7.5" fill="#000"/>
<rect x="980.76" y="2600" width="2.8" height="7.5" fill="#000"/>
<rect x="990.18" y="2600" width="2.8" height="7.5" fill="#000"/>
<rect x="999.5" y="2600" width="3" height="13.5" fill="#000"/>
<rect x="1009.02" y="2600" width="2.8" height="7.5" fill="#000"/>
<rect x="1018.44" y="2600" width="2.8" height="7.5" fill="#000"/>
<rect x="1027.86" y="2600" width="2.8" height="7.5" fill="#000"/>
<rect x="1037.28" y="2600" width="2.8" height="7.5" fill="#000"/>
<rect x="1046.6" y="2600" width="3" height="13.5" fill="#000"/>
<rect x="1056.12" y="2600" width="2.8" height="7.5" fill="#000"/>
<rect x="1065.54" y="2600" width="2.8" height="7.5" fill="#000"/>
<rect x="1074.96" y="2600" width="2.8" height="7.5" fill="#000"/>
<rect x="1084.38" y="2600" width="2.8" height="7.5" fill="#000"/>
<rect x="1093.7" y="2600" width="3" height="13.5" fill="#000"/>
<rect x="1103.22" y="2600" width="2.8" height="7.5" fill="#000"/>
<rect x="1112.64" y="2600" width="2.8" height="7.5" fill="#000"/>
<rect x="1122.06" y="2600" width="2.8" height="7.5" fill="#000"/>
<rect x="1131.48" y="2600" width="2.8" height="7.5" fill="#000"/>
<rect x="1140.8" y="2600" width="3" height="13.5" fill="#000"/>
<rect x="1150.32" y="2600" width="2.8" height="7.5" fill="#000"/>
<rect x="1159.74" y="2600" width="2.8" height="7.5" fill="#000"/>
<rect x="1169.16" y="2600" width="2.8" height="7.5" fill="#000"/>
<rect x="1178.58" y="2600" width="2.8" height="7.5" fill="#000"/>
<rect x="1187.9" y="2600" width="3" height="13.5" fill="#000"/>
<rect x="1197.42" y="2600" width="2.8" height="7.5" fill="#000"/>
<rect x="1206.84" y="2600" width="2.8" height="7.5" fill="#000"/>
<rect x="1216.26" y="2600" width="2.8" height="7.5" fill="#000"/>
<rect x="1225.68" y="2600" width="2.8" height="7.5" fill="#000"/>
<rect x="1235" y="2600" width="3" height="13.5" fill="#000"/>
<rect x="1244.52" y="2600" width="2.8" height="7.5" fill="#000"/>
<rect x="1253.94" y="2600" width="2.8" height="7.5" fill="#000"/>
<rect x="1263.36" y="2600" width="2.8" height="7.5" fill="#000"/>
<rect x="1272.78" y="2600" width="2.8" height="7.5" fill="#000"/>
<rect x="1282.1" y="2600" width="3" height="13.5" fill="#000"/>
<rect x="1291.62" y="2600" width="2.8" height="7.5" fill="#000"/>
<rect x="1301.04" y="2600" width="2.8" height="7.5" fill="#000"/>
<rect x="1310.46" y="2600" width="2.8" height="7.5" fill="#000"/>
<rect x="1319.88" y="2600" width="2.8" height="7.5" fill="#000"/>
<rect x="1329.2" y="2600" width="3" height="13.5" fill="#000"/>
<rect x="1338.72" y="2600" width="2.8" height="7.5" fill="#000"/>
<rect x="1348.14" y="2600" width="2.8" height="7.5" fill="#000"/>
<rect x="1357.56" y="2600" width="2.8" height="7.5" fill="#000"/>
<rect x="1366.98" y="2600" width="2.8" height="7.5" fill="#000"/>
<rect x="1376.3" y="2600" width="3" height="13.5" fill="#000"/>
<rect x="1385.82" y="2600" width="2.8" height="7.5" fill="#000"/>
<rect x="1395.24" y="2600" width="2.8" height="7.5" fill="#000"/>
<rect x="1404.66" y="2600" width="2.8" height="7.5" fill="#000"/>
<rect x="1414.08" y="2600" width="2.8" height="7.5" fill="#000"/>
<rect x="1423.4" y="2600" width="3" height="13.5" fill="#000"/>
<rect x="1432.92" y="2600" width="2.8" height="7.5" fill="#000"/>
<rect x="1442.34" y="2600" width="2.8" height="7.5" fill="#000"/>
<rect x="1451.76" y="2600" width="2.8" height="7.5" fill="#000"/>
<rect x="1461.18" y="2600" width="2.8" height="7.5" fill="#000"/>
<rect x="1470.5" y="2600" width="3" height="13.5" fill="#000"/>
<rect x="1480.02" y="2600" width="2.8" height="7.5" fill="#000"/>
<rect x="1489.44" y="2600" width="2.8" height="7.5" fill="#000"/>
<rect x="1498.86" y="2600" width="2.8" height="7.5" fill="#000"/>
<rect x="1508.28" y="2600" width="2.8" height="7.5" fill="#000"/>
<rect x="1517.6" y="2600" width="3" height="13.5" fill="#000"/>
<rect x="1527.12" y="2600" width="2.8" height="7.5" fill="#000"/>
<rect x="1536.54" y="2600" width="2.8" height="7.5" fill="#000"/>
<rect x="1545.96" y="2600" width="2.8" height="7.5" fill="#000"/>
<rect x="1555.38" y="2600" width="2.8" height="7.5" fill="#000"/>
<rect x="1564.7" y="2600" width="3" height="13.5" fill="#000"/>
<rect x="1574.22" y="2600" width="2.8" height="7.5" fill="#000"/>
<rect x="1583.64" y="2600" width="2.8" height="7.5" fill="#000"/>
<rect x="1593.06" y="2600" width="2.8" height="7.5" fill="#000"/>
<rect x="1602.48" y="2600" width="2.8" height="7.5" fill="#000"/>
<rect x="1611.8" y="2600" width="3" height="13.5" fill="#000"/>
<rect x="1621.32" y="2600" width="2.8" height="7.5" fill="#000"/>
<rect x="1630.74" y="2600" width="2.8" height="7.5" fill="#000"/>
<rect x="1640.16" y="2600" width="2.8" height="7.5" fill="#000"/>
<rect x="1649.58" y="2600" width="2.8" height="7.5" fill="#000"/>
<rect x="1658.9" y="2600" width="3" height="13.5" fill="#000"/>
<rect x="1668.42" y="2600" width="2.8" height="7.5" fill="#000"/>
<rect x="1677.84" y="2600" width="2.8" height="7.5" fill="#000"/>
<rect x="1687.26" y="2600" width="2.8" height="7.5" fill="#000"/>
<rect x="1696.68" y="2600" width="2.8" height="7.5" fill="#000"/>
<rect x="1706" y="2600" width="3" height="13.5" fill="#000"/>
<rect x="1715.52" y="2600" width="2.8" height="7.5" fill="#000"/>
<rect x="1724.94" y="2600" width="2.8" height="7.5" fill="#000"/>
<rect x="1734.36" y="2600" width="2.8" height="7.5" fill="#000"/>
<rect x="1743.78" y="2600" width="2.8" height="7.5" fill="#000"/>
<rect x="1753.1" y="2600" width="3" height="13.5" fill="#000"/>
<rect x="1762.62" y="2600" width="2.8" height="7.5" fill="#000"/>
<rect x="1772.04" y="2600" width="2.8" height="7.5" fill="#000"/>
<rect x="1781.46" y="2600" width="2.8" height="7.5" fill="#000"/>
<rect x="1790.88" y="2600" width="2.8" height="7.5" fill="#000"/>
<rect x="1800.2" y="2600" width="3" height="13.5" fill="#000"/>
<rect x="1809.72" y="2600" width="2.8" height="7.5" fill="#000"/>
<rect x="1819.14" y="2600" width="2.8" height="7.5" fill="#000"/>
<rect x="1828.56" y="2600" width="2.8" height="7.5" fill="#000"/>
<rect x="1837.98" y="2600" width="2.8" height="7.5" fill="#000"/>
<rect x="1847.3" y="2600" width="3" height="13.5" fill="#000"/>
<rect x="1856.82" y="2600" width="2.8" height="7.5" fill="#000"/>
<rect x="1866.24" y="2600" width="2.8" height="7.5" fill="#000"/>
<rect x="1875.66" y="2600" width="2.8" height="7.5" fill="#000"/>
<rect x="1885.08" y="2600" width="2.8" height="7.5" fill="#000"/>
<rect x="1894.4" y="2600" width="3" height="13.5" fill="#000"/>
<rect x="1903.92" y="2600" width="2.8" height="7.5" fill="#000"/>
<rect x="1913.34" y="2600" width="2.8" height="7.5" fill="#000"/>
<rect x="1922.76" y="2600" width="2.8" height="7.5" fill="#000"/>
<rect x="1932.18" y="2600" width="2.8" height="7.5" fill="#000"/>
<rect x="1941.5" y="2600" width="3" height="13.5" fill="#000"/>
<rect x="1951.02" y="2600" width="2.8" height="7.5" fill="#000"/>
<rect x="1960.44" y="2600" width="2.8" height="7.5" fill="#000"/>
<rect x="1969.86" y="2600" width="2.8" height="7.5" fill="#000"/>
<rect x="1979.28" y="2600" width="2.8" height="7.5" fill="#000"/>
<rect x="1988.6" y="2600" width="3" height="13.5" fill="#000"/>
<rect x="1998.12" y="2600" width="2.8" height="7.5" fill="#000"/>
<rect x="2007.54" y="2600" width="2.8" height="7.5" fill="#000"/>
<rect x="2016.96" y="2600" width="2.8" height="7.5" fill="#000"/>
<rect x="2026.38" y="2600" width="2.8" height="7.5" fill="#000"/>
<rect x="2035.7" y="2600" width="3" height="13.5" fill="#000"/>
<rect x="2045.22" y="2600" width="2.8" height="7.5" fill="#000"/>
<rect x="2054.64" y="2600" width="2.8" height="7.5" fill="#000"/>
<rect x="2064.06" y="2600" width="2.8" height="7.5" fill="#000"/>
<rect x="2073.48" y="2600" width="2.8" height="7.5" fill="#000"/>
<rect x="2082.8" y="2600" width="3" height="13.5" fill="#000"/>
<text transform="translate(264.25,2639.3) scale(1.1734,1)" font-size="30.51" font-weight="bold" fill="#000">100</text>
<text transform="translate(358.45,2639.3) scale(1.1734,1)" font-size="30.51" font-weight="bold" fill="#000">110</text>
<text transform="translate(452.65,2639.3) scale(1.1734,1)" font-size="30.51" font-weight="bold" fill="#000">120</text>
<text transform="translate(546.85,2639.3) scale(1.1734,1)" font-size="30.51" font-weight="bold" fill="#000">130</text>
<text transform="translate(641.05,2639.3) scale(1.1734,1)" font-size="30.51" font-weight="bold" fill="#000">140</text>
<text transform="translate(735.25,2639.3) scale(1.1734,1)" font-size="30.51" font-weight="bold" fill="#000">150</text>
<text transform="translate(829.45,2639.3) scale(1.1734,1)" font-size="30.51" font-weight="bold" fill="#000">160</text>
<text transform="translate(923.65,2639.3) scale(1.1734,1)" font-size="30.51" font-weight="bold" fill="#000">170</text>
<text transform="translate(1017.85,2639.3) scale(1.1734,1)" font-size="30.51" font-weight="bold" fill="#000">180</text>
<text transform="translate(1112.05,2639.3) scale(1.1734,1)" font-size="30.51" font-weight="bold" fill="#000">190</text>
<text transform="translate(1207.28,2639.3) scale(1.1526,1)" font-size="30.51" font-weight="bold" fill="#000">200</text>
<text transform="translate(1301.48,2639.3) scale(1.1526,1)" font-size="30.51" font-weight="bold" fill="#000">210</text>
<text transform="translate(1395.68,2639.3) scale(1.1526,1)" font-size="30.51" font-weight="bold" fill="#000">220</text>
<text transform="translate(1489.88,2639.3) scale(1.1526,1)" font-size="30.51" font-weight="bold" fill="#000">230</text>
<text transform="translate(1584.08,2639.3) scale(1.1526,1)" font-size="30.51" font-weight="bold" fill="#000">240</text>
<text transform="translate(1678.28,2639.3) scale(1.1526,1)" font-size="30.51" font-weight="bold" fill="#000">250</text>
<text transform="translate(1772.48,2639.3) scale(1.1526,1)" font-size="30.51" font-weight="bold" fill="#000">260</text>
<text transform="translate(1866.68,2639.3) scale(1.1526,1)" font-size="30.51" font-weight="bold" fill="#000">270</text>
<text transform="translate(1960.88,2639.3) scale(1.1526,1)" font-size="30.51" font-weight="bold" fill="#000">280</text>
<text transform="translate(2055.08,2639.3) scale(1.1526,1)" font-size="30.51" font-weight="bold" fill="#000">290</text>
<text transform="translate(216.86,1433.7) scale(1.1754,1)" font-size="28.93" font-weight="bold" fill="#000">100</text>
<text transform="translate(254.75,2605.8) scale(1.2073,1)" font-size="28.21" font-weight="bold" fill="#000">0</text>
<text transform="translate(278.16,2022.1) rotate(-90) scale(0.6940,1)" font-size="37.66" font-weight="bold" fill="#000">%</text>
<text transform="translate(2109.91,2610.5) scale(1.1801,1)" font-size="26.91" font-weight="bold" fill="#000">m/z</text>
<rect x="300.7" y="2480.9" width="3.5" height="117.1" fill="#000"/>
<rect x="339.7" y="2306" width="4.4" height="292" fill="#000"/>
<rect x="867.4" y="1423.3" width="5.2" height="1174.7" fill="#000"/>
<polygon points="823.3,2568.4 828.5,2568.4 828.5,2584 830.5,2584 830.5,2598 823.3,2598" fill="#000"/>
<rect x="509.6" y="1773.2" width="5.4" height="479.8" fill="#000"/>
<rect x="508.4" y="2250" width="8.1" height="348" fill="#000"/>
<rect x="516" y="2514.5" width="2.5" height="83.5" fill="#000"/>
<polygon points="504.3,2535 506,2528.7 508.6,2528.7 508.6,2598 504.3,2598" fill="#000"/>
<text transform="translate(824.05,1417.5) scale(1.0212,1)" font-size="28.79" font-weight="bold" fill="#000">161.04</text>
<text transform="translate(465.52,1768.9) scale(0.9643,1)" font-size="30.93" font-weight="bold" fill="#000">123.04</text>
<text transform="translate(513.74,2236.9) scale(1.1099,1)" font-size="28.07" font-weight="bold" fill="#000">123.23</text>
<text transform="translate(395.09,2280.7) scale(1.1495,1)" font-size="26.35" font-weight="bold" fill="#000">122.85</text>
<text transform="translate(296.06,2300.3) scale(1.0958,1)" font-size="28.07" font-weight="bold" fill="#000">104.89</text>
<text transform="translate(395.06,2359) scale(1.0969,1)" font-size="28.07" font-weight="bold" fill="#000">122.72</text>
<polyline points="531.8,2241.5 514.6,2255.3" fill="none" stroke="#000" stroke-width="2.2"/>
<polyline points="490.4,2276 507.6,2284.1" fill="none" stroke="#000" stroke-width="2.2"/>
<polyline points="490.3,2354.1 507.6,2361" fill="none" stroke="#000" stroke-width="2.2"/>
</svg>
</body></html>
